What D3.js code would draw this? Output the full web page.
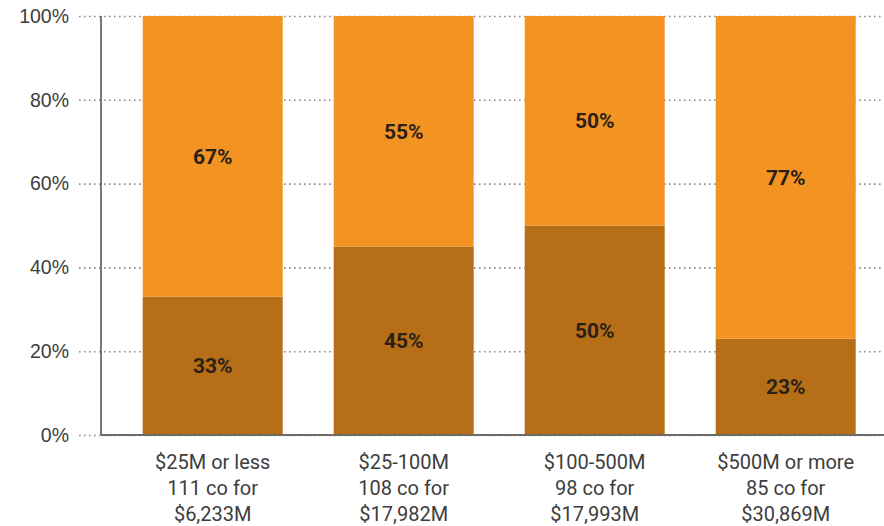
<!DOCTYPE html>
<html>
<head>
<meta charset="utf-8">
<script src="https://cdn.jsdelivr.net/npm/d3@7"></script>
<style>
  html, body { margin: 0; padding: 0; background: #fff; }
  svg { display: block; font-family: Roboto, "Noto Sans", sans-serif; }
</style>
</head>
<body>
<svg id="chart" width="884" height="526"></svg>
<script>
// Deal-size buckets and their split (percent of total)
const categories = ["$25M or less", "$25-100M", "$100-500M", "$500M or more"];
const categoryLines = [
  ["$25M or less", "111 co for", "$6,233M"],
  ["$25-100M", "108 co for", "$17,982M"],
  ["$100-500M", "98 co for", "$17,993M"],
  ["$500M or more", "85 co for", "$30,869M"]
];
const lowerShare = [33, 45, 50, 23];   // dark segment, bottom
const upperShare = [67, 55, 50, 77];   // light segment, top
const yTicks = [0, 20, 40, 60, 80, 100];

const colors = { lower: "#b66f16", upper: "#f39422" };

const svg = d3.select("#chart");
const axisX = 101, plotRight = 884, plotTop = 16, plotBottom = 435;

const x = d3.scaleBand()
  .domain(categories)
  .range([117.2, 881.2])
  .paddingInner(0.267)
  .paddingOuter(0.1335);

const y = d3.scaleLinear().domain([0, 100]).range([plotBottom, plotTop]);

// dotted gridlines with tick labels
const grid = svg.append("g")
  .attr("transform", `translate(${axisX},0)`)
  .call(d3.axisLeft(y).tickValues(yTicks).tickSize(22).tickFormat(d => d + "%").tickPadding(10))
  .call(g => g.select(".domain").remove());
grid.selectAll(".tick line")
  .attr("x2", plotRight - axisX)
  .attr("x1", -22)
  .attr("stroke", "#8a8a8a")
  .attr("stroke-width", 1.6)
  .attr("stroke-dasharray", "1.6 3.4");
grid.selectAll(".tick text")
  .attr("font-size", 19.5)
  .attr("fill", "#3d3d3d")
  .attr("x", -32);

// stacked bars
const rows = categories.map((c, i) => ({ cat: c, lower: lowerShare[i], upper: upperShare[i] }));
const stacked = d3.stack().keys(["lower", "upper"])(rows);

const layers = svg.append("g").selectAll("g")
  .data(stacked)
  .join("g")
  .attr("fill", d => colors[d.key]);

layers.selectAll("rect")
  .data(d => d)
  .join("rect")
  .attr("x", d => x(d.data.cat))
  .attr("width", x.bandwidth())
  .attr("y", d => y(d[1]))
  .attr("height", d => y(d[0]) - y(d[1]));

// value labels centred in each segment
layers.selectAll("text")
  .data(d => d.map(v => ({ v, key: d.key })))
  .join("text")
  .attr("x", d => x(d.v.data.cat) + x.bandwidth() / 2)
  .attr("y", d => y((d.v[0] + d.v[1]) / 2))
  .attr("dy", "0.36em")
  .attr("text-anchor", "middle")
  .attr("font-size", 21)
  .attr("font-weight", 700)
  .attr("fill", "#2b2016")
  .text(d => d.v.data[d.key] + "%");

// axis lines
svg.append("line")
  .attr("x1", axisX).attr("x2", axisX)
  .attr("y1", y(100)).attr("y2", y(0))
  .attr("stroke", "#6e6a66").attr("stroke-width", 1.8);
svg.append("line")
  .attr("x1", axisX).attr("x2", plotRight)
  .attr("y1", y(0)).attr("y2", y(0))
  .attr("stroke", "#6e6a66").attr("stroke-width", 1.8);

// category labels
const labels = svg.append("g").selectAll("text")
  .data(categories)
  .join("text")
  .attr("text-anchor", "middle")
  .attr("font-size", 20)
  .attr("fill", "#3d3d3d")
  .attr("x", d => x(d) + x.bandwidth() / 2)
  .attr("y", 469);
labels.selectAll("tspan")
  .data((d, i) => categoryLines[i])
  .join("tspan")
  .attr("x", function () { return this.parentNode.getAttribute("x"); })
  .attr("dy", (d, i) => i === 0 ? 0 : 26)
  .text(d => d);
</script>
</body>
</html>
